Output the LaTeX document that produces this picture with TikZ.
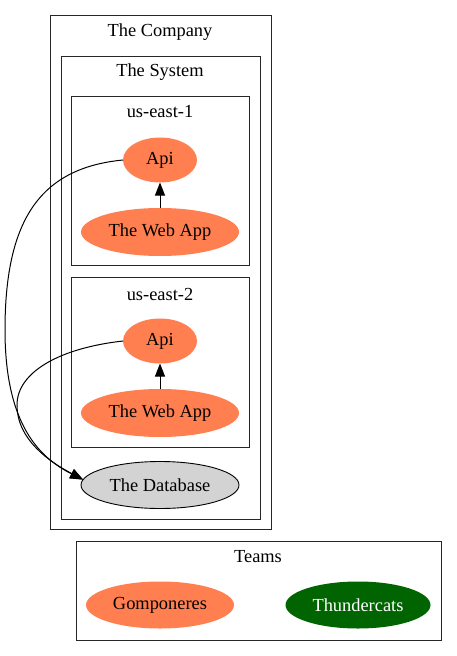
\documentclass[tikz,border=0pt]{standalone}
\usepackage{fontspec}
\setmainfont{Liberation Serif}
\usetikzlibrary{shapes.geometric,arrows.meta}
\definecolor{coral}{HTML}{FF7F50}
\definecolor{dbgray}{HTML}{D3D3D3}
\definecolor{dkgreen}{HTML}{006400}
\begin{document}
\begin{tikzpicture}[x=1pt,y=-1pt,
  font=\fontsize{18.4}{21}\selectfont,
  cluster/.style={draw=black!85,line width=0.9pt},
  svc/.style={ellipse,fill=coral,inner sep=0pt,outer sep=0pt},
  dbnode/.style={ellipse,fill=dbgray,draw=black,line width=0.9pt,inner sep=0pt,outer sep=0pt},
  team/.style={ellipse,inner sep=0pt,outer sep=0pt},
  edge/.style={line width=1pt,-{Triangle[length=13pt,width=10pt]}},
  lbl/.style={inner sep=0pt}]
\useasboundingbox (0,0) rectangle (457,656);
% clusters
\draw[cluster] (50,15) rectangle (271,529);
\draw[cluster] (61,56) rectangle (260,519);
\draw[cluster] (71,96) rectangle (249,265);
\draw[cluster] (71,277) rectangle (249,447);
\draw[cluster] (76,541) rectangle (441,640);
\node[lbl] (lcomp) at (160,32) {The Company};
\node[lbl] (lsys) at (160,72) {The System};
\node[lbl] (le1) at (160,112) {us-east-1};
\node[lbl] (le2) at (160,294) {us-east-2};
\node[lbl] (lteams) at (258,557) {Teams};
% nodes
\node[svc,minimum width=74pt,minimum height=45pt] (api1) at (160,160) {Api};
\node[svc,minimum width=158pt,minimum height=48pt] (web1) at (160,232) {The Web App};
\node[svc,minimum width=74pt,minimum height=45pt] (api2) at (160,341) {Api};
\node[svc,minimum width=158pt,minimum height=48pt] (web2) at (160,413) {The Web App};
\node[dbnode,minimum width=158pt,minimum height=47pt] (db) at (160,485) {The Database};
\node[team,fill=coral,minimum width=148pt,minimum height=47pt] (gomp) at (160,605) {Gomponeres};
\node[team,fill=dkgreen,text=white,minimum width=145pt,minimum height=47pt] (thund) at (358,605) {Thundercats};
% edges
\draw[edge] (web1.north) -- (api1.south);
\draw[edge] (web2.north) -- (api2.south);
\coordinate (c1) at (5,330);
\coordinate (c2) at (17,405);
\draw[edge] (api1.west) .. controls (40,168) and (5,220) .. (c1)
  .. controls (5,425) and (40,458) .. (db.176);
\draw[edge] (api2.west) .. controls (60,348) and (17,372) .. (c2)
  .. controls (17,440) and (50,462) .. (db.176);
\end{tikzpicture}
\end{document}
